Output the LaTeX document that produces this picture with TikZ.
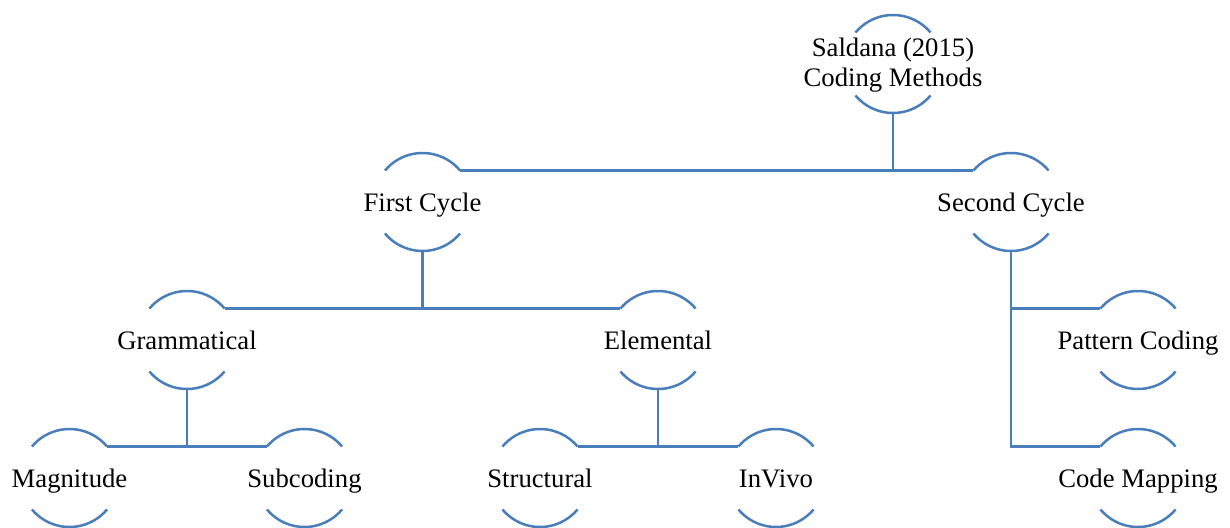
\documentclass[tikz,border=0pt]{standalone}
\usepackage{fontspec}
\setmainfont{Liberation Serif}
\definecolor{linkblue}{RGB}{74,126,187}
\newcommand\Rad{49}
\tikzset{
  x=1pt, y=1pt,
  topictext/.style={font=\fontsize{26.7}{29.5}\selectfont, align=center, inner sep=0pt},
  arcline/.style={draw=linkblue, line width=2.5pt},
  link/.style={draw=linkblue, line width=2.5pt},
}
% the two arcs of a circle around a topic, and its connection points
\newcommand\topicarcs[1]{%
  \draw[arcline] ([shift={(40:\Rad)}]#1) arc[start angle=40,end angle=140,radius=\Rad];
  \draw[arcline] ([shift={(220:\Rad)}]#1) arc[start angle=220,end angle=320,radius=\Rad];
  \coordinate (#1-tl) at ([shift={(140:\Rad)}]#1);
  \coordinate (#1-tr) at ([shift={(40:\Rad)}]#1);
  \coordinate (#1-b) at ([shift={(270:\Rad)}]#1);
}
% a one-line topic: circle centre, text set on a baseline just below it
\newcommand\topicnode[4]{%
  \coordinate (#1) at (#2,#3);
  \node[topictext, anchor=base] (#1-text) at ([yshift=-9]#1) {#4};
  \topicarcs{#1}
}
\begin{document}
\begin{tikzpicture}
\useasboundingbox (0,0) rectangle (1230,-527);

\coordinate (saldana) at (893,-64);
\node[topictext] (saldana-text) at ([yshift=-1]saldana) {Saldana (2015)\\Coding Methods};
\topicarcs{saldana}

\topicnode{first}{422.5}{-202}{First Cycle}
\topicnode{second}{1011}{-202}{Second Cycle}
\topicnode{gram}{187}{-340}{Grammatical}
\topicnode{elem}{658}{-340}{Elemental}
\topicnode{pattern}{1138}{-340}{Pattern Coding}
\topicnode{mag}{69.5}{-478}{Magnitude}
\topicnode{sub}{304.5}{-478}{Subcoding}
\topicnode{struct}{540}{-478}{Structural}
\topicnode{invivo}{776}{-478}{InVivo}
\topicnode{codemap}{1138}{-478}{Code Mapping}

% root
\draw[link] (first-tr) -- (second-tl);
\draw[link] (saldana-b) -- (saldana-b |- first-tr);
% first cycle
\draw[link] (gram-tr) -- (elem-tl);
\draw[link] (first-b) -- (first-b |- gram-tr);
% grammatical
\draw[link] (mag-tr) -- (sub-tl);
\draw[link] (gram-b) -- (gram-b |- mag-tr);
% elemental
\draw[link] (struct-tr) -- (invivo-tl);
\draw[link] (elem-b) -- (elem-b |- struct-tr);
% second cycle
\draw[link] (second-b) |- (codemap-tl);
\draw[link] (second-b |- pattern-tl) -- (pattern-tl);
\end{tikzpicture}
\end{document}
